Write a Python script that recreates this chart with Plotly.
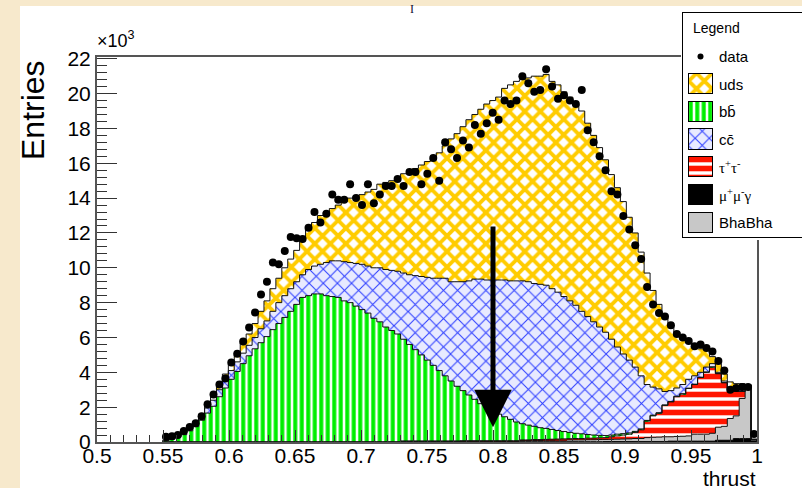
import numpy as np
import plotly.graph_objects as go

# Histogram binning: 100 bins of width 0.0045 starting at thrust = 0.55
BIN_LO = 0.55
BIN_W = 0.0045

# Entries per bin, in units of 10^3
data = [0.3, 0.33, 0.4, 0.63, 0.86, 1.08, 1.48, 2.17, 2.73, 3.3,
        3.65, 4.56, 5.07, 5.77, 6.57, 7.43, 8.46, 9.2, 10.3, 10.2,
        10.97, 11.77, 11.7, 11.65, 12.3, 13.2, 12.6, 13.1, 14.2, 13.9,
        13.9, 14.8, 14.0, 13.6, 14.8, 13.7, 14.2, 14.7, 14.7, 15.1,
        14.7, 15.5, 15.5, 14.8, 15.4, 16.3, 15.0, 17.2, 16.8, 16.3,
        17.3, 16.9, 18.2, 17.7, 18.3, 18.9, 18.5, 19.6, 19.4, 19.6,
        21.0, 20.6, 20.1, 20.2, 21.4, 20.4, 19.7, 19.9, 19.6, 19.4,
        20.2, 17.9, 17.2, 16.4, 15.6, 14.4, 14.2, 12.97, 12.2, 11.3,
        10.5, 8.9, 7.9, 7.4, 7.2, 6.7, 6.2, 6.0, 5.8, 5.5,
        5.6, 5.4, 5.2, 4.65, 4.1, 3.0, 3.1, 3.15, 3.15, 0.46]

uds = [0.02, 0.03, 0.05, 0.07, 0.10, 0.13, 0.15, 0.15, 0.20, 0.30,
       0.35, 0.40, 0.50, 0.60, 0.65, 0.80, 1.0, 1.15, 1.3, 1.4,
       1.6, 1.7, 1.8, 2.1, 2.4, 2.5, 2.8, 2.9, 3.0, 3.2,
       3.45, 3.7, 3.85, 4.0, 4.25, 4.5, 4.8, 5.0, 5.15, 5.4,
       5.7, 6.0, 6.15, 6.4, 6.65, 6.9, 7.2, 7.6, 8.2, 8.5,
       8.9, 9.25, 9.45, 9.75, 10.1, 10.3, 10.5, 11.0, 11.25, 11.45,
       11.55, 11.7, 11.9, 11.95, 12.1, 11.9, 11.9, 11.75, 11.7, 11.55,
       11.5, 11.1, 10.7, 10.3, 9.9, 9.45, 9.15, 8.75, 8.2, 7.7,
       7.1, 6.4, 5.55, 4.85, 4.4, 3.85, 3.2, 2.6, 2.15, 1.7,
       1.35, 1.0, 0.4, 0.5, 0.4, 0.35, 0.35, 0.35, 0.05, 0.0]

bbbar = [0.08, 0.16, 0.28, 0.42, 0.64, 0.88, 1.25, 1.66, 2.05, 2.6,
         3.1, 3.6, 4.05, 4.5, 4.95, 5.35, 5.7, 6.05, 6.45, 6.8,
         7.15, 7.5, 7.9, 8.3, 8.4, 8.5, 8.5, 8.4, 8.35, 8.3,
         8.1, 8.0, 7.8, 7.6, 7.4, 7.1, 6.9, 6.6, 6.4, 6.2,
         5.85, 5.55, 5.25, 4.95, 4.65, 4.35, 4.05, 3.75, 3.45, 3.15,
         2.88, 2.63, 2.38, 2.13, 1.93, 1.73, 1.53, 1.38, 1.23, 1.08,
         0.93, 0.85, 0.76, 0.68, 0.63, 0.56, 0.49, 0.42, 0.36, 0.30,
         0.27, 0.21, 0.18, 0.14, 0.12, 0.10, 0.10, 0.08, 0.07, 0.06,
         0.05, 0.04, 0.04, 0.03, 0.03, 0.03, 0.03, 0.02, 0.02, 0.02,
         0.02, 0.02, 0.01, 0.01, 0.01, 0.01, 0.01, 0.01, 0.0, 0.0]

ccbar = [0.02, 0.03, 0.05, 0.08, 0.11, 0.14, 0.20, 0.29, 0.35, 0.40,
         0.45, 0.50, 0.55, 0.60, 0.60, 0.65, 0.80, 0.90, 1.05, 1.2,
         1.25, 1.3, 1.3, 1.3, 1.5, 1.6, 1.7, 1.9, 2.05, 2.1,
         2.25, 2.3, 2.45, 2.6, 2.7, 2.9, 3.1, 3.3, 3.45, 3.6,
         3.8, 4.0, 4.25, 4.5, 4.75, 5.0, 5.3, 5.6, 5.7, 6.0,
         6.25, 6.55, 6.9, 7.15, 7.3, 7.5, 7.7, 7.85, 7.95, 8.1,
         8.2, 8.23, 8.2, 8.23, 8.22, 8.08, 7.94, 7.75, 7.55, 7.35,
         7.03, 6.77, 6.5, 6.22, 5.93, 5.5, 5.0, 4.57, 4.18, 3.69,
         3.05, 2.06, 1.61, 1.37, 0.77, 0.62, 0.47, 0.53, 0.51, 0.48,
         0.28, 0.28, 0.19, 0.07, 0.09, 0.09, 0.09, 0.09, 0.0, 0.0]

tautau = [0.0, 0.0, 0.0, 0.0, 0.0, 0.0, 0.0, 0.0, 0.0, 0.0,
          0.0, 0.0, 0.0, 0.0, 0.0, 0.0, 0.0, 0.0, 0.0, 0.0,
          0.0, 0.0, 0.0, 0.0, 0.0, 0.0, 0.0, 0.0, 0.0, 0.0,
          0.0, 0.0, 0.0, 0.0, 0.0, 0.0, 0.0, 0.0, 0.0, 0.0,
          0.0, 0.0, 0.0, 0.0, 0.0, 0.0, 0.0, 0.0, 0.0, 0.0,
          0.02, 0.02, 0.02, 0.02, 0.02, 0.02, 0.02, 0.02, 0.02, 0.02,
          0.04, 0.04, 0.05, 0.05, 0.05, 0.06, 0.06, 0.07, 0.07, 0.08,
          0.08, 0.09, 0.09, 0.10, 0.10, 0.15, 0.19, 0.23, 0.27, 0.35,
          0.50, 0.95, 1.23, 1.37, 1.80, 2.00, 2.28, 2.42, 2.72, 2.85,
          3.25, 3.55, 3.80, 3.07, 2.50, 1.65, 1.40, 0.40, 0.05, 0.0]

mumugamma = [0.0, 0.0, 0.0, 0.0, 0.0, 0.0, 0.0, 0.0, 0.0, 0.0,
             0.0, 0.0, 0.0, 0.0, 0.0, 0.0, 0.0, 0.0, 0.0, 0.0,
             0.0, 0.0, 0.0, 0.0, 0.0, 0.0, 0.0, 0.0, 0.0, 0.0,
             0.0, 0.0, 0.0, 0.0, 0.0, 0.0, 0.0, 0.0, 0.0, 0.0,
             0.02, 0.02, 0.02, 0.02, 0.02, 0.02, 0.02, 0.02, 0.02, 0.02,
             0.02, 0.02, 0.02, 0.02, 0.02, 0.02, 0.02, 0.02, 0.02, 0.02,
             0.02, 0.02, 0.02, 0.02, 0.02, 0.02, 0.02, 0.02, 0.02, 0.02,
             0.02, 0.02, 0.02, 0.02, 0.03, 0.03, 0.03, 0.03, 0.03, 0.03,
             0.03, 0.03, 0.03, 0.03, 0.03, 0.05, 0.05, 0.05, 0.05, 0.05,
             0.05, 0.05, 0.05, 0.1, 0.1, 0.1, 0.2, 0.2, 0.2, 0.1]

bhabha = [0.0, 0.0, 0.0, 0.0, 0.0, 0.0, 0.0, 0.0, 0.0, 0.0,
          0.0, 0.0, 0.0, 0.0, 0.0, 0.0, 0.0, 0.0, 0.0, 0.0,
          0.0, 0.0, 0.0, 0.0, 0.0, 0.0, 0.0, 0.0, 0.0, 0.0,
          0.0, 0.0, 0.0, 0.0, 0.0, 0.0, 0.0, 0.0, 0.0, 0.0,
          0.03, 0.03, 0.03, 0.03, 0.03, 0.03, 0.03, 0.03, 0.03, 0.03,
          0.03, 0.03, 0.03, 0.03, 0.03, 0.03, 0.03, 0.03, 0.03, 0.03,
          0.06, 0.06, 0.07, 0.07, 0.08, 0.08, 0.09, 0.09, 0.10, 0.10,
          0.10, 0.11, 0.11, 0.12, 0.12, 0.12, 0.13, 0.14, 0.15, 0.17,
          0.17, 0.22, 0.24, 0.25, 0.27, 0.25, 0.27, 0.28, 0.30, 0.40,
          0.40, 0.40, 0.45, 0.75, 0.80, 1.25, 1.30, 2.30, 3.00, 0.05]

# Selection cut marked by the arrow
thrust_cut = 0.8
arrow_top = 12.45
arrow_tip = 0.85

FONT = "Liberation Sans, Arial, Helvetica, sans-serif"
W, H = 802, 488

# fill styles, keyed by sample
STYLE = {
    "uds": dict(color="white", pattern=dict(shape="x", fgcolor="#ffcc00", bgcolor="white",
                                            fgopacity=1, size=11, solidity=0.58)),
    "bb": dict(color="white", pattern=dict(shape="|", fgcolor="#00ee00", bgcolor="white",
                                           fgopacity=1, size=6.5, solidity=0.62)),
    "cc": dict(color="#e8eaff", pattern=dict(shape="x", fgcolor="#2f40ff", bgcolor="#e8eaff",
                                             fgopacity=1, size=10, solidity=0.2)),
    "tau": dict(color="white", pattern=dict(shape="-", fgcolor="#ff1500", bgcolor="white",
                                            fgopacity=1, size=9, solidity=0.62)),
    "mumu": dict(color="black"),
    "bhabha": dict(color="#c8c8c8"),
}

# stacking order, bottom first
stack = [
    ("mumu", mumugamma),
    ("bhabha", bhabha),
    ("tau", tautau),
    ("bb", bbbar),
    ("cc", ccbar),
    ("uds", uds),
]

n = len(data)
centers = BIN_LO + BIN_W * (np.arange(n) + 0.5)
edges = BIN_LO + BIN_W * np.arange(n + 1)

fig = go.Figure()

for key, vals in stack:
    st = STYLE[key]
    marker = dict(color=st["color"], line=dict(width=0))
    if "pattern" in st:
        marker["pattern"] = st["pattern"]
    fig.add_trace(go.Bar(x=centers, y=vals, width=BIN_W, marker=marker,
                         showlegend=False, hoverinfo="skip", xaxis="x", yaxis="y"))

# histogram outlines of each cumulative level
level = np.zeros(n)
for key, vals in stack:
    level = level + np.asarray(vals)
    sx = np.concatenate([[edges[0]], edges, [edges[-1]]])
    sy = np.concatenate([[0.0], level, [level[-1]], [0.0]])
    fig.add_trace(go.Scatter(x=sx, y=sy[:len(sx)], mode="lines",
                             line=dict(color="#111111", width=1, shape="hv"),
                             showlegend=False, hoverinfo="skip", xaxis="x", yaxis="y"))

# data points
fig.add_trace(go.Scatter(x=centers, y=data, mode="markers",
                         marker=dict(color="black", size=8),
                         showlegend=False, xaxis="x", yaxis="y"))

# ---- legend box, drawn in its own pixel-unit axes ----
rows = [("uds", "uds"), ("bb", "bb\u0304"), ("cc", "cc\u0304"),
        ("tau", "\u03c4<sup>+</sup>\u03c4<sup>-</sup>"),
        ("mumu", "\u03bc<sup>+</sup>\u03bc<sup>-</sup>\u03b3"),
        ("bhabha", "BhaBha")]
row_pitch = 27.7
first_top = 63.0
sw_h = 20.3

fig.add_trace(go.Bar(x=[65], y=[225], base=[2], width=[130],
                     marker=dict(color="white", line=dict(color="black", width=1)),
                     showlegend=False, hoverinfo="skip", xaxis="x2", yaxis="y2"))
for k, (key, label) in enumerate(rows):
    st = STYLE[key]
    marker = dict(color=st["color"], line=dict(color="black", width=1))
    if "pattern" in st:
        marker["pattern"] = st["pattern"]
    top = first_top + k * row_pitch
    fig.add_trace(go.Bar(x=[17.7], y=[sw_h], base=[top], width=[24], marker=marker,
                         showlegend=False, hoverinfo="skip", xaxis="x2", yaxis="y2"))
fig.add_trace(go.Scatter(x=[17.5], y=[first_top + sw_h / 2 - row_pitch], mode="markers",
                         marker=dict(color="black", size=6), showlegend=False,
                         hoverinfo="skip", xaxis="x2", yaxis="y2"))

annotations = []
annotations.append(dict(x=8, y=16.5, xref="x2", yref="y2", text="Legend", showarrow=False,
                        xanchor="left", yanchor="middle", font=dict(size=14, family=FONT)))
annotations.append(dict(x=33.7, y=first_top + sw_h / 2 - row_pitch, xref="x2", yref="y2",
                        text="data", showarrow=False, xanchor="left", yanchor="middle",
                        font=dict(size=15, family=FONT)))
for k, (key, label) in enumerate(rows):
    fam = "Liberation Serif, Times New Roman, serif" if key in ("tau", "mumu") else FONT
    annotations.append(dict(x=33.7, y=first_top + sw_h / 2 + k * row_pitch, xref="x2", yref="y2",
                            text=label, showarrow=False, xanchor="left", yanchor="middle",
                            font=dict(size=15, family=fam)))

# cut arrow
annotations.append(dict(x=thrust_cut, y=arrow_tip, ax=thrust_cut, ay=arrow_top,
                        xref="x", yref="y", axref="x", ayref="y", text="",
                        showarrow=True, arrowhead=2, arrowsize=1.5, arrowwidth=5,
                        arrowcolor="black"))

# axis titles and exponent
annotations.append(dict(x=33 / W, y=1 - 110 / H, xref="paper", yref="paper", text="Entries",
                        textangle=-90, showarrow=False, xanchor="center", yanchor="middle",
                        font=dict(size=32, family=FONT)))
annotations.append(dict(x=95 / W, y=1 - 53 / H, xref="paper", yref="paper",
                        text="\u00d710<sup>3</sup>", showarrow=False, xanchor="left",
                        yanchor="bottom", font=dict(size=18, family=FONT)))
annotations.append(dict(x=758 / W, y=1 - 465 / H, xref="paper", yref="paper", text="thrust",
                        showarrow=False, xanchor="right", yanchor="top",
                        font=dict(size=21, family=FONT)))
annotations.append(dict(x=412 / W, y=1 - 9 / H, xref="paper", yref="paper", text="I",
                        showarrow=False, xanchor="center", yanchor="middle",
                        font=dict(size=12, family="Liberation Serif, serif", color="#111133")))

axis_common = dict(showgrid=False, zeroline=False, showline=True, linecolor="#555555",
                   linewidth=2, mirror=True, ticks="inside", tickcolor="#333333",
                   tickfont=dict(size=21, family=FONT, color="black"))

fig.update_layout(
    width=W, height=H,
    margin=dict(l=0, r=0, t=0, b=0, autoexpand=False),
    paper_bgcolor="#f7e9cc",
    plot_bgcolor="white",
    barmode="stack", bargap=0,
    showlegend=False,
    font=dict(family=FONT, color="black"),
    xaxis=dict(domain=[97 / W, 757 / W], range=[0.5, 1.0], tick0=0.5, dtick=0.05,
               ticklen=12, ticklabelstandoff=-6, automargin=False,
               minor=dict(dtick=0.01, ticks="inside", ticklen=7, tickcolor="#333333"),
               anchor="y", **axis_common),
    yaxis=dict(domain=[46 / H, 431 / H], range=[0, 22.1], tick0=0, dtick=2,
               ticklen=20, automargin=False,
               minor=dict(dtick=0.4, ticks="inside", ticklen=10, tickcolor="#333333"),
               anchor="x", **axis_common),
    xaxis2=dict(domain=[681 / W, 1.0], range=[-2, 119], visible=False, anchor="y2",
                fixedrange=True),
    yaxis2=dict(domain=[(H - 240) / H, (H - 11) / H], range=[229, 0], visible=False,
                anchor="x2", fixedrange=True),
    annotations=annotations,
    shapes=[dict(type="rect", xref="paper", yref="paper", x0=20 / W, x1=1.0,
                 y0=0, y1=(H - 6) / H, fillcolor="white", line=dict(width=0),
                 layer="below")],
)

fig.write_html("out.html")
